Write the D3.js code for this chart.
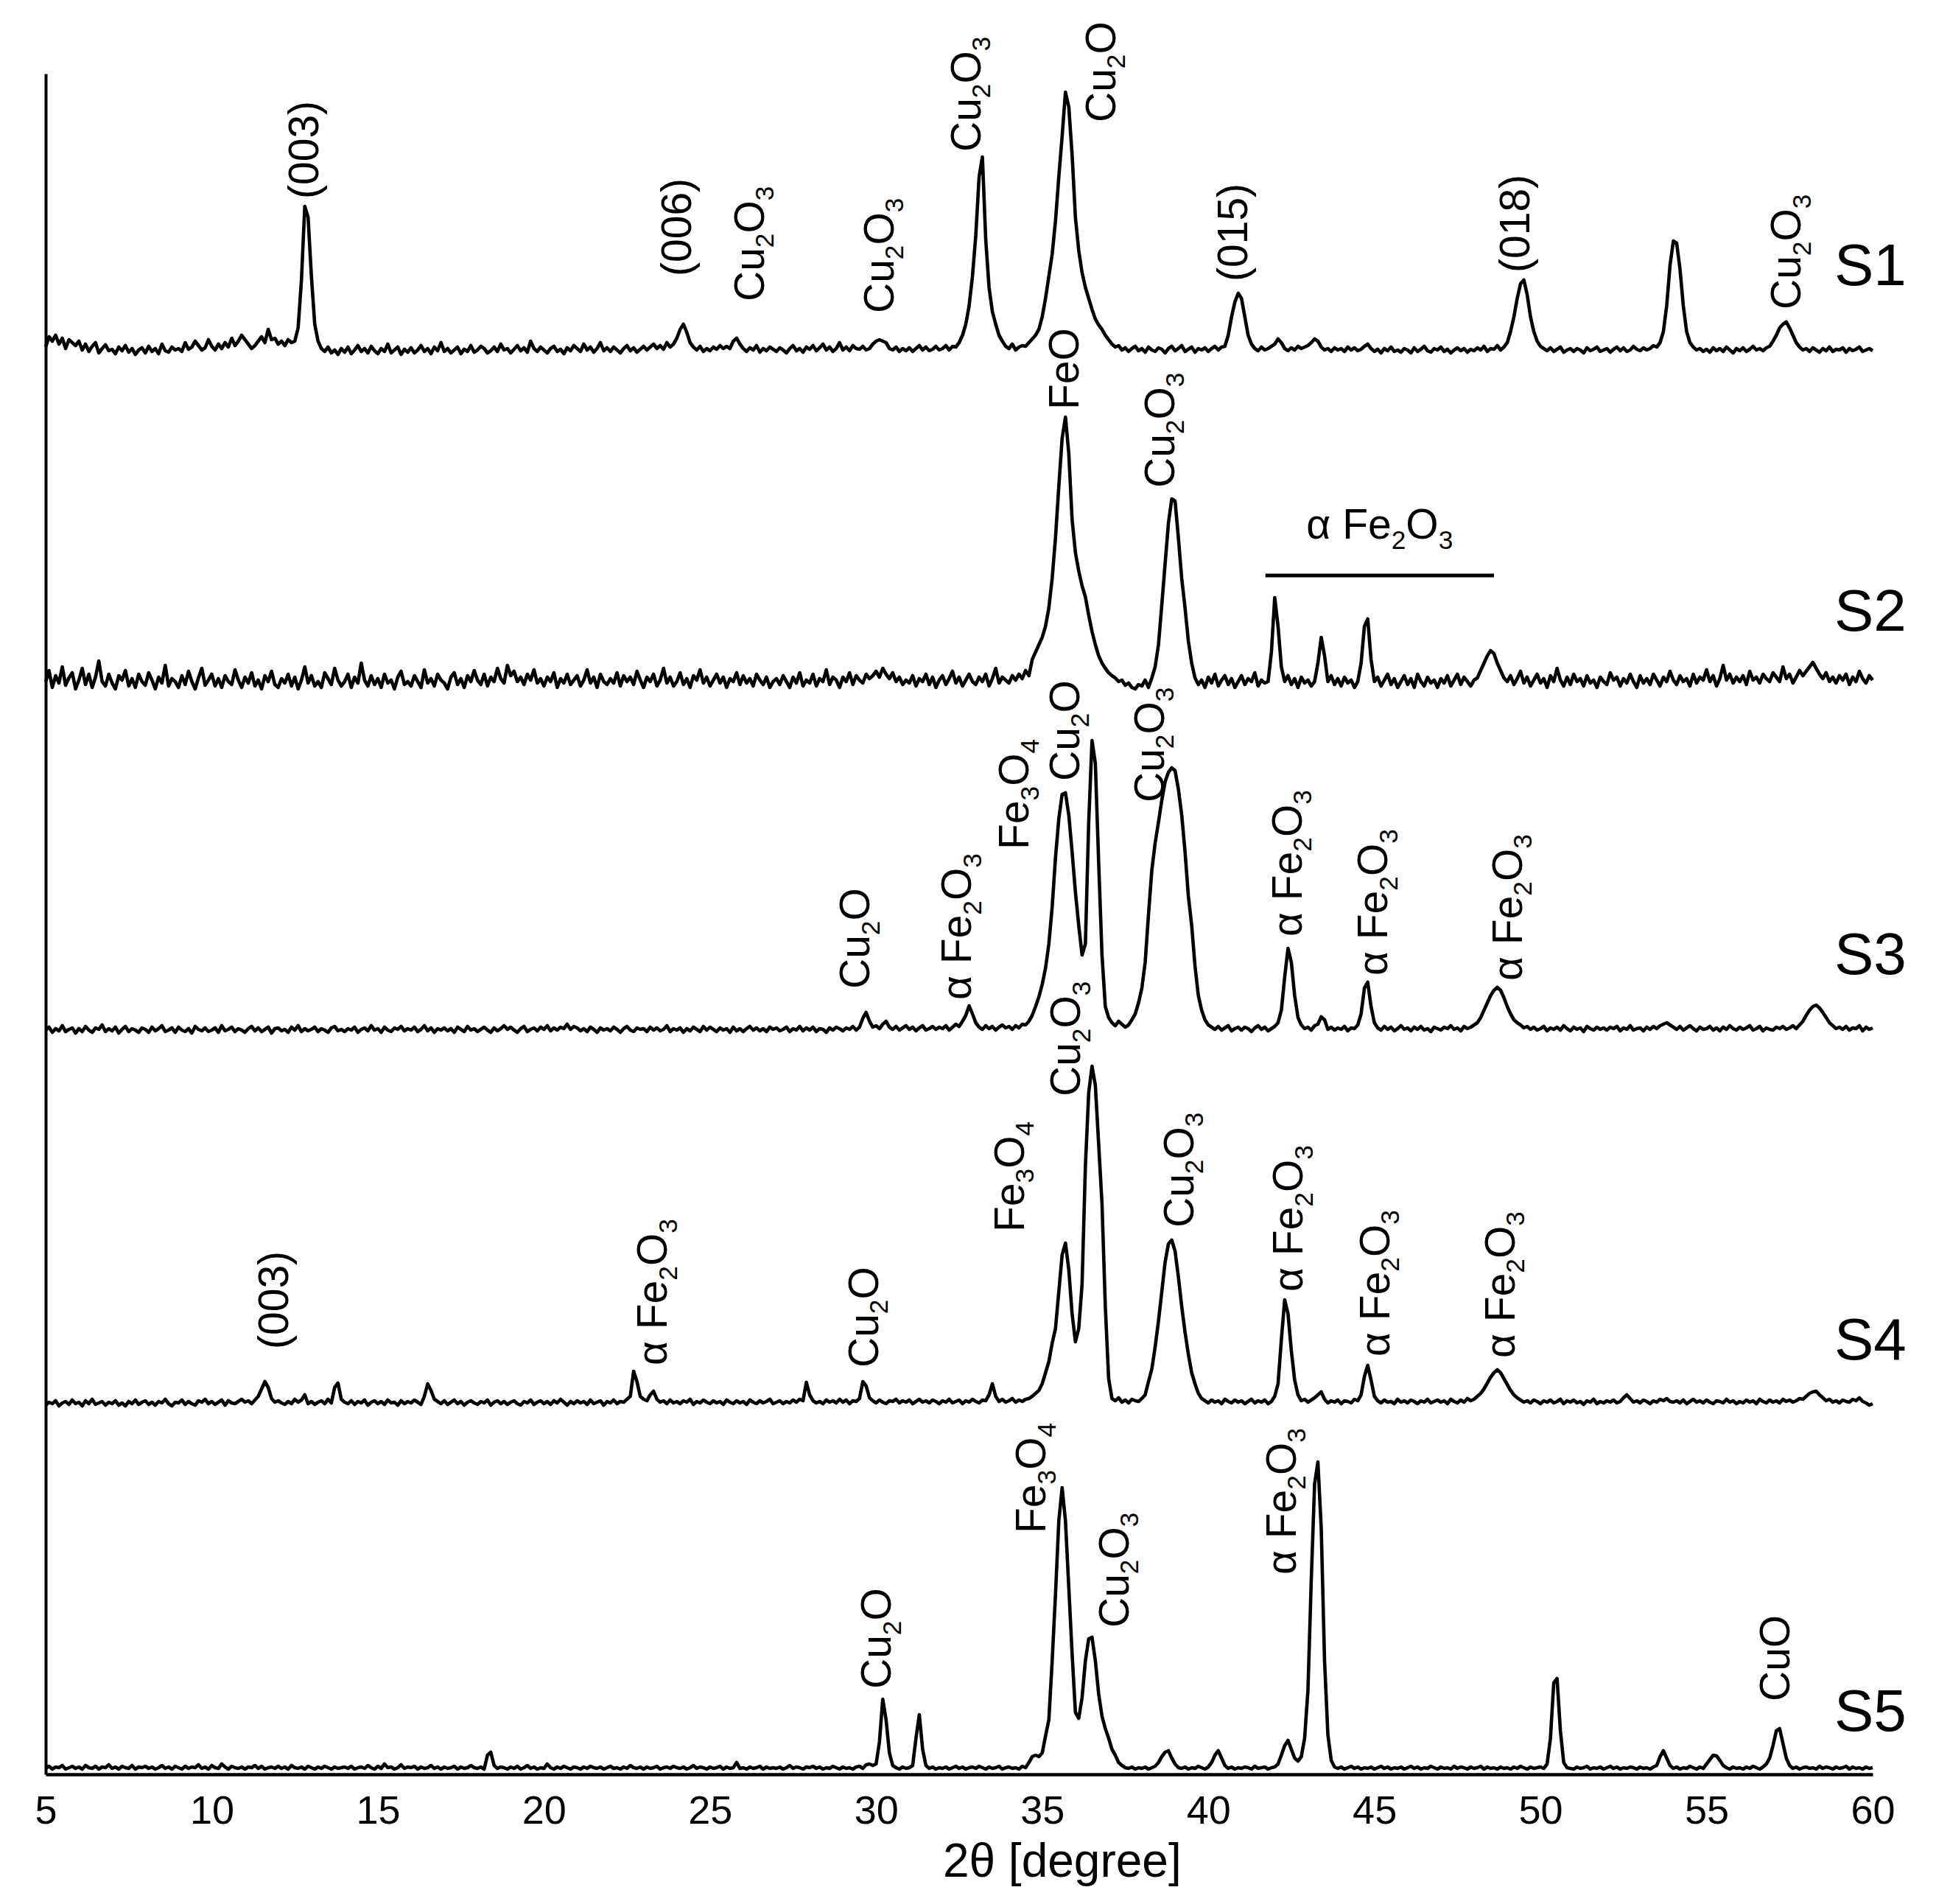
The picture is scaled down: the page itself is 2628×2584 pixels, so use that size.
<!DOCTYPE html>
<html><head><meta charset="utf-8">
<script src="https://cdn.jsdelivr.net/npm/d3@7/dist/d3.min.js"></script>
<style>html,body{margin:0;padding:0;background:#fff;} svg{display:block;}</style>
</head><body>
<svg id="chart" width="2628" height="2584"></svg>
<script>
// ---------- data ----------
const angleStart = 5, angleStep = 0.1;           // 2θ grid of the recorded patterns
const seriesNames = ["S1", "S2", "S3", "S4", "S5"];
const seriesOffsets = [1923, 1463, 1002, 495, 4];  // vertical stacking offsets (a.u.)
const seriesLabelHeights = [98, 89, 84, 68, 55];   // name label level above each baseline (a.u.)
const xTicks = [5, 10, 15, 20, 25, 30, 35, 40, 45, 50, 55, 60];
const xTitle = "2θ [degree]";

// intensities (a.u.) every 0.1°, one row per degree starting at 5°
const s1 = [
 14,28,22,30,18,26,12,24,20,16,
 22,10,18,8,15,20,6,12,17,9,
 11,5,14,9,16,7,12,4,10,13,
 6,15,8,12,5,18,9,7,14,10,
 12,8,20,11,14,22,16,10,13,24,
 15,10,18,12,20,14,26,16,22,30,
 24,18,12,16,22,28,20,38,24,26,
 18,22,16,24,20,22,40,105,205,190,
 110,45,22,12,8,14,6,10,4,12,
 7,14,5,10,16,8,12,6,15,9,
 5,12,8,18,6,10,14,4,11,7,
 13,6,10,16,8,12,5,14,9,20,
 8,12,6,10,14,5,11,8,16,7,
 10,15,12,6,9,14,8,18,10,12,
 6,11,16,9,13,7,22,12,8,14,
 10,6,12,15,8,11,5,13,9,16,
 12,8,18,10,14,7,12,20,9,13,
 8,14,10,6,12,16,9,13,7,11,
 15,10,14,18,12,16,11,20,14,18,
 26,38,45,34,20,14,10,15,8,12,
 9,14,11,16,12,15,12,22,26,18,
 12,8,13,10,16,7,12,9,14,11,
 8,13,10,6,12,16,9,12,7,14,
 11,16,9,13,18,10,14,8,12,20,
 10,14,9,16,12,11,15,10,12,18,
 22,24,22,20,12,10,14,8,12,9,
 13,8,12,16,10,14,9,11,15,10,
 12,16,10,15,14,20,30,45,70,110,
 165,245,272,160,95,62,45,30,22,15,
 12,18,10,14,16,15,20,25,30,38,
 55,80,110,140,185,245,300,360,340,275,
 190,145,115,95,80,65,52,44,38,30,
 24,18,14,16,10,13,8,12,15,9,
 12,7,14,10,8,13,11,6,12,15,
 9,12,16,8,11,14,7,12,10,13,
 8,12,15,10,14,15,30,55,75,87,
 80,55,30,18,12,9,14,10,12,15,
 18,25,20,12,9,13,10,15,12,14,
 16,20,25,22,14,10,12,8,13,10,
 12,8,14,10,13,9,11,15,18,12,
 8,11,6,12,9,14,8,10,7,12,
 10,6,13,8,11,15,9,7,12,10,
 14,8,11,6,10,13,9,12,7,11,
 9,13,10,15,8,12,11,16,10,14,
 20,35,55,80,100,105,85,55,35,22,
 15,12,9,13,8,11,14,7,10,12,
 8,12,10,6,13,9,11,14,8,10,
 12,7,11,14,9,13,8,10,15,11,
 9,13,10,12,16,14,20,35,70,125,
 158,155,120,70,35,20,14,10,12,8,
 11,7,13,9,12,8,14,10,6,12,
 9,13,8,11,15,10,12,9,13,15,
 22,30,40,45,48,40,30,20,14,10,
 12,8,13,10,7,12,9,14,8,11,
 10,13,7,12,9,11,14,8,10,12,
 9];

const s2 = [
 20,35,12,28,18,40,15,25,32,10,
 22,38,16,30,12,26,48,20,14,30,
 18,10,28,22,35,14,24,12,30,20,
 15,32,22,10,26,18,42,14,24,20,
 12,28,16,34,20,10,25,38,15,22,
 30,14,24,12,28,20,16,36,22,12,
 26,18,32,14,22,10,28,20,34,16,
 12,24,18,30,14,26,10,22,40,18,
 28,14,20,12,32,24,16,38,22,14,
 20,30,12,26,18,45,22,14,28,16,
 24,12,30,18,22,10,26,34,16,20,
 14,28,20,12,36,18,24,14,30,22,
 18,10,26,32,16,24,12,28,20,35,
 22,16,30,14,26,20,38,24,18,42,
 28,34,20,26,16,30,22,36,18,24,
 14,26,20,32,12,24,18,30,16,22,
 28,14,22,36,18,26,12,30,20,16,
 24,18,32,14,28,20,26,16,34,22,
 12,26,20,30,14,22,38,18,26,14,
 20,32,16,24,12,28,22,36,18,26,
 14,22,30,18,26,12,24,20,32,16,
 28,18,24,14,30,22,16,26,12,20,
 24,16,28,20,12,26,18,32,14,22,
 18,30,14,24,20,36,16,26,22,12,
 26,20,32,16,28,22,18,30,24,28,
 34,26,38,30,24,32,20,26,16,22,
 18,28,14,24,20,30,16,26,12,22,
 28,16,24,34,18,26,14,22,30,20,
 16,26,20,30,14,24,38,18,26,22,
 18,28,22,30,24,35,28,50,60,70,
 80,95,120,160,215,285,350,379,330,240,
 195,170,150,135,110,88,70,55,45,38,
 32,28,25,20,22,15,18,12,10,16,
 14,22,12,25,40,70,124,180,235,268,
 265,215,160,120,75,45,25,16,22,12,
 26,18,30,14,22,28,16,24,12,20,
 28,16,24,20,32,14,22,18,20,60,
 134,95,40,20,28,16,24,12,26,18,
 22,14,20,45,80,55,20,28,16,24,
 14,26,18,22,12,20,45,95,105,50,
 20,26,14,22,30,16,24,12,20,28,
 16,24,12,30,20,14,26,18,22,12,
 24,18,28,14,22,30,16,26,20,14,
 22,25,35,45,55,62,58,45,35,25,
 20,28,16,24,34,18,26,14,22,30,
 18,24,12,28,20,38,22,14,26,16,
 30,20,24,14,28,18,22,12,26,20,
 16,32,22,26,14,24,18,30,20,12,
 28,18,24,16,30,22,14,26,20,34,
 22,16,28,20,24,14,30,18,26,22,
 36,20,28,14,24,42,22,30,18,26,
 20,28,16,34,22,26,18,30,24,20,
 32,26,20,40,24,30,18,26,35,28,
 34,40,46,38,30,24,32,20,26,18,
 28,22,30,16,26,20,34,24,18,28,
 22];

const s3 = [
 8,12,5,10,7,14,6,9,11,4,
 10,6,13,8,5,11,9,15,6,10,
 7,12,4,9,13,6,10,8,5,11,
 9,5,12,7,10,14,6,8,11,5,
 12,8,6,10,4,13,9,7,11,6,
 8,11,5,14,7,9,12,6,10,8,
 5,10,13,7,11,6,9,12,4,10,
 11,7,9,5,12,8,14,6,10,7,
 9,12,6,10,8,5,11,13,7,9,
 6,10,8,12,5,9,11,7,14,8,
 10,5,12,8,6,11,9,13,7,10,
 8,12,6,9,14,7,11,5,10,8,
 11,7,10,5,12,9,6,13,8,10,
 6,9,12,8,5,11,7,10,14,9,
 12,8,5,10,13,6,9,11,7,12,
 9,14,7,11,8,12,10,16,9,13,
 11,7,10,6,12,9,5,11,8,10,
 7,12,9,5,10,13,8,6,11,9,
 10,6,12,8,11,7,9,14,6,10,
 8,11,5,10,7,12,9,6,13,8,
 12,9,6,11,8,10,5,12,7,10,
 6,10,13,8,11,7,10,6,12,9,
 11,7,9,12,6,10,8,13,7,11,
 8,12,6,10,9,5,11,8,12,10,
 7,11,9,13,8,12,24,32,20,12,
 14,10,16,20,12,9,13,8,11,14,
 9,12,7,11,14,8,10,13,9,12,
 10,14,8,12,16,13,20,28,41,30,
 18,12,9,14,10,13,8,12,15,11,
 13,9,14,11,16,15,20,28,40,53,
 70,92,125,175,242,295,328,330,300,250,
 195,150,110,125,290,401,370,235,110,40,
 25,18,14,20,16,12,15,22,30,45,
 65,100,165,225,262,290,320,345,358,364,
 360,335,300,250,190,150,95,55,35,22,
 15,12,9,13,8,11,14,7,10,12,
 8,12,10,6,11,14,9,12,7,10,
 13,18,35,80,119,100,55,25,15,10,
 12,8,14,16,26,22,9,12,8,11,
 9,13,7,11,10,15,30,65,73,40,
 18,11,8,13,9,12,7,10,14,9,
 11,7,12,9,13,8,10,6,12,10,
 8,12,10,14,9,11,7,13,10,12,
 15,18,25,35,45,55,62,66,62,52,
 40,30,22,18,15,11,13,9,12,8,
 10,13,7,11,9,12,8,14,10,7,
 12,9,11,6,13,10,8,12,9,11,
 8,12,10,13,7,11,9,14,8,10,
 11,7,12,9,13,10,14,16,18,15,
 12,9,13,8,11,14,10,7,12,9,
 10,13,8,11,7,12,9,14,10,8,
 12,9,11,14,8,10,13,7,11,9,
 8,12,10,13,9,11,14,10,15,20,
 28,35,40,42,38,32,25,18,14,10,
 12,9,13,8,11,10,14,7,12,9,
 11];

const s4 = [
 6,10,8,12,5,9,11,7,13,8,
 10,5,12,8,14,7,9,11,6,10,
 8,12,6,9,5,11,8,13,7,10,
 12,7,10,6,11,9,14,8,5,10,
 9,13,7,11,8,6,12,10,14,8,
 11,7,10,13,6,12,9,8,11,14,
 10,12,8,13,18,28,38,30,15,10,
 12,9,7,11,8,14,10,13,20,8,
 11,7,10,12,8,14,9,30,36,14,
 10,8,12,7,11,9,13,6,10,12,
 8,11,7,13,9,10,6,12,8,11,
 9,13,10,7,18,35,26,14,11,8,
 12,7,10,13,8,11,6,10,12,9,
 7,11,9,13,6,10,12,8,11,7,
 10,12,8,6,11,9,13,7,10,12,
 8,11,7,12,9,14,10,6,11,8,
 12,9,11,7,13,8,10,12,6,11,
 9,13,8,11,10,14,18,52,38,18,
 14,12,20,25,14,10,12,8,13,9,
 11,8,12,10,14,7,11,9,13,10,
 8,12,9,11,7,13,10,8,12,9,
 11,7,13,10,8,12,9,11,14,8,
 10,12,8,11,9,13,10,14,12,37,
 20,12,9,11,8,13,10,12,9,14,
 10,13,8,12,11,15,38,32,16,12,
 9,13,10,8,12,11,14,9,12,10,
 13,8,11,14,10,12,9,13,11,8,
 12,10,14,9,11,13,8,12,10,14,
 11,9,13,12,20,35,18,11,14,10,
 12,15,10,13,11,14,15,18,22,26,
 35,50,65,90,110,160,210,226,190,130,
 92,110,170,330,430,466,440,360,280,140,
 42,15,12,16,10,13,9,14,12,11,
 15,20,38,55,85,120,160,200,225,230,
 215,180,140,105,75,50,35,22,15,12,
 9,13,10,12,8,14,11,9,13,10,
 12,8,11,14,9,12,10,13,8,11,
 18,35,95,149,130,80,40,20,12,14,
 10,13,16,20,24,14,9,12,10,13,
 8,12,11,9,14,12,20,45,60,40,
 18,12,9,13,10,11,8,14,10,12,
 9,13,11,8,12,10,14,9,11,13,
 10,12,8,14,11,9,13,10,15,12,
 14,18,22,28,36,44,50,54,50,42,
 34,26,20,16,13,10,12,9,13,11,
 8,12,10,13,9,11,14,8,12,10,
 13,9,11,7,12,10,14,8,11,9,
 12,10,13,9,11,16,20,15,10,12,
 9,13,11,8,12,10,14,12,15,11,
 10,12,9,13,8,11,14,10,12,9,
 13,10,8,12,11,9,14,10,12,8,
 11,9,13,10,12,8,14,11,9,13,
 10,12,9,14,11,13,10,12,15,14,
 18,22,24,25,20,16,12,14,10,12,
 9,13,11,10,14,12,16,11,9,6,
 8];

const s5 = [
 4,7,3,6,5,8,3,5,7,4,
 6,3,8,5,4,7,3,6,5,9,
 4,6,3,7,5,4,8,3,6,5,
 7,4,6,3,5,8,4,6,3,7,
 5,3,7,4,6,5,9,4,6,3,
 8,5,4,10,6,3,7,5,4,6,
 3,6,5,8,4,7,3,5,6,4,
 7,4,6,3,8,5,4,6,3,7,
 5,3,6,4,7,5,3,6,4,5,
 6,4,7,3,5,6,4,8,5,3,
 7,4,10,5,6,3,5,9,4,6,
 5,7,3,6,4,5,8,4,6,3,
 6,4,5,7,3,6,4,5,8,5,
 4,6,3,22,26,8,4,6,5,3,
 6,4,7,3,5,8,4,6,3,5,
 4,10,5,3,6,4,7,5,3,6,
 5,3,6,4,7,5,4,6,3,5,
 7,4,5,3,6,4,8,5,4,6,
 3,6,4,5,7,3,5,6,4,7,
 5,4,6,3,5,8,4,6,5,3,
 6,4,5,7,3,6,4,5,12,4,
 5,3,6,4,5,7,3,6,4,5,
 4,6,3,5,8,4,6,5,3,6,
 5,7,4,6,3,5,4,7,5,3,
 6,4,5,3,6,7,4,9,10,8,
 10,40,98,70,25,8,5,3,6,4,
 5,8,45,77,30,8,4,6,3,5,
 4,6,3,5,7,4,6,3,5,6,
 4,7,5,3,6,4,5,7,3,5,
 6,4,5,3,7,5,12,20,22,20,
 25,48,70,150,240,340,385,340,250,160,
 80,72,100,150,180,182,150,105,75,58,
 45,30,22,12,8,5,4,6,3,5,
 4,6,3,5,7,12,20,26,28,18,
 10,5,4,6,3,5,4,7,5,3,
 6,12,22,28,18,8,4,6,3,5,
 4,6,5,3,7,4,5,6,3,5,
 6,10,22,35,42,30,18,14,20,45,
 110,260,390,420,330,150,50,15,6,4,
 6,3,5,7,4,6,3,5,4,6,
 3,5,7,4,6,3,5,4,6,3,
 5,7,4,6,3,5,4,7,5,3,
 6,4,5,3,7,4,6,5,3,6,
 4,5,7,3,6,4,5,3,6,4,
 5,3,6,4,7,5,3,6,4,5,
 6,4,10,45,120,126,55,12,5,4,
 3,6,4,5,7,3,5,4,6,3,
 5,7,4,6,3,5,4,6,5,3,
 6,4,5,3,6,8,20,28,18,8,
 4,6,3,5,4,7,5,3,6,4,
 10,16,22,21,15,8,5,3,6,4,
 5,3,6,4,7,5,3,6,10,18,
 35,55,58,38,18,8,4,6,3,5,
 6,4,5,3,7,4,6,5,3,6,
 4,5,7,3,6,4,5,3,6,4,
 5];

const seriesValues = [s1, s2, s3, s4, s5];

// peak annotations: [series index, 2θ, level above baseline (a.u.), text]  (_n = subscript)
const peakLabels = [
 [0, 12.76, 215, "(003)"], [0, 23.98, 110, "(006)"], [0, 26.16, 76, "Cu_2O_3"],
 [0, 30.06, 60, "Cu_2O_3"], [0, 32.68, 279, "Cu_2O_3"], [0, 36.74, 319, "Cu_2O"],
 [0, 40.71, 103, "(015)"], [0, 49.2, 115, "(018)"], [0, 57.38, 65, "Cu_2O_3"],
 [1, 35.63, 389, "FeO"], [1, 38.51, 283, "Cu_2O_3"],
 [2, 29.35, 64, "Cu_2O"], [2, 32.41, 49, "α Fe_2O_3"], [2, 34.14, 253, "Fe_3O_4"],
 [2, 35.65, 346, "Cu_2O"], [2, 38.2, 317, "Cu_2O_3"], [2, 42.35, 135, "α Fe_2O_3"],
 [2, 44.94, 82, "α Fe_2O_3"], [2, 48.98, 75, "α Fe_2O_3"],
 [3, 11.85, 82, "(003)"], [3, 23.25, 60, "α Fe_2O_3"], [3, 29.6, 57, "Cu_2O"],
 [3, 33.99, 241, "Fe_3O_4"], [3, 35.69, 425, "Cu_2O_3"], [3, 39.09, 247, "Cu_2O_3"],
 [3, 42.39, 160, "α Fe_2O_3"], [3, 44.99, 72, "α Fe_2O_3"], [3, 48.76, 70, "α Fe_2O_3"],
 [4, 29.99, 112, "Cu_2O"], [4, 34.65, 323, "Fe_3O_4"], [4, 37.14, 195, "Cu_2O_3"],
 [4, 42.17, 267, "α Fe_2O_3"], [4, 57.03, 95, "CuO"]
];
// group annotation on S2: [series, 2θ start, 2θ end, bar level, text level, text]
const groupLabel = [1, 41.72, 48.6, 164, 214, "α Fe_2O_3"];

// ---------- drawing ----------
const FONT = "'Liberation Sans', Arial, Helvetica, sans-serif";
const svg = d3.select("#chart").attr("font-family", FONT);
svg.append("rect").attr("width", 2628).attr("height", 2584).attr("fill", "#fff");

const x = d3.scaleLinear().domain([5, 60]).range([62, 2542]);
const y = d3.scaleLinear().domain([0, 2308]).range([2408, 100]);

function parts(str) {
  const out = []; let buf = "";
  for (let i = 0; i < str.length; i++) {
    if (str[i] === "_" && i + 1 < str.length) {
      if (buf) out.push({ t: buf, sub: false }); buf = "";
      out.push({ t: str[i + 1], sub: true }); i++;
    } else buf += str[i];
  }
  if (buf) out.push({ t: buf, sub: false });
  return out;
}
function fillText(t, str, fs) {
  let shifted = false;
  parts(str).forEach(p => {
    const ts = t.append("tspan").text(p.t);
    if (p.sub) {
      ts.attr("font-size", fs * 0.62);
      if (!shifted) { ts.attr("dy", fs * 0.24); shifted = true; }
    } else if (shifted) { ts.attr("dy", -fs * 0.24); shifted = false; }
  });
}

// traces
const line = d3.line().x(d => x(d[0])).y(d => y(d[1]));
seriesValues.forEach((vals, i) => {
  const pts = vals.map((v, j) => [angleStart + j * angleStep, seriesOffsets[i] + v]);
  svg.append("path").datum(pts).attr("d", line)
    .attr("fill", "none").attr("stroke", "#000").attr("stroke-width", 4.6)
    .attr("stroke-linejoin", "round");
});

// axes
const xAxis = d3.axisBottom(x).tickValues(xTicks).tickSize(0).tickPadding(29).tickFormat(d3.format("d"));
const gx = svg.append("g").attr("transform", `translate(0,${y(0)})`).call(xAxis);
gx.select(".domain").attr("stroke", "#000").attr("stroke-width", 4.5);
gx.selectAll("text").attr("font-size", 54).attr("font-family", FONT).attr("fill", "#000");
const yAxis = d3.axisLeft(y).tickValues([]).tickSizeOuter(0);
const gy = svg.append("g").attr("transform", `translate(${x(5)},0)`).call(yAxis);
gy.select(".domain").attr("stroke", "#000").attr("stroke-width", 4);

svg.append("text").attr("x", x(35.6)).attr("y", 2547).attr("text-anchor", "middle")
  .attr("font-size", 64).attr("fill", "#000").text(xTitle);

// series names
seriesNames.forEach((n, i) => {
  svg.append("text").attr("x", 2490).attr("y", y(seriesOffsets[i] + seriesLabelHeights[i]))
    .attr("font-size", 80).attr("fill", "#000").text(n);
});

// peak labels (rotated)
const PFS = 57;
peakLabels.forEach(([si, ang, lev, str]) => {
  const t = svg.append("text")
    .attr("transform", `translate(${x(ang)},${y(seriesOffsets[si] + lev)}) rotate(-90)`)
    .attr("y", PFS * 0.36).attr("font-size", PFS).attr("fill", "#000");
  fillText(t, str, PFS);
});

// grouped α Fe2O3 annotation on S2
{
  const [si, a0, a1, barLev, txtLev, str] = groupLabel;
  svg.append("line").attr("x1", x(a0)).attr("x2", x(a1))
    .attr("y1", y(seriesOffsets[si] + barLev)).attr("y2", y(seriesOffsets[si] + barLev))
    .attr("stroke", "#000").attr("stroke-width", 5);
  const t = svg.append("text").attr("x", x((a0 + a1) / 2)).attr("y", y(seriesOffsets[si] + txtLev))
    .attr("text-anchor", "middle").attr("font-size", PFS).attr("fill", "#000");
  fillText(t, str, PFS);
}
</script>
</body></html>
